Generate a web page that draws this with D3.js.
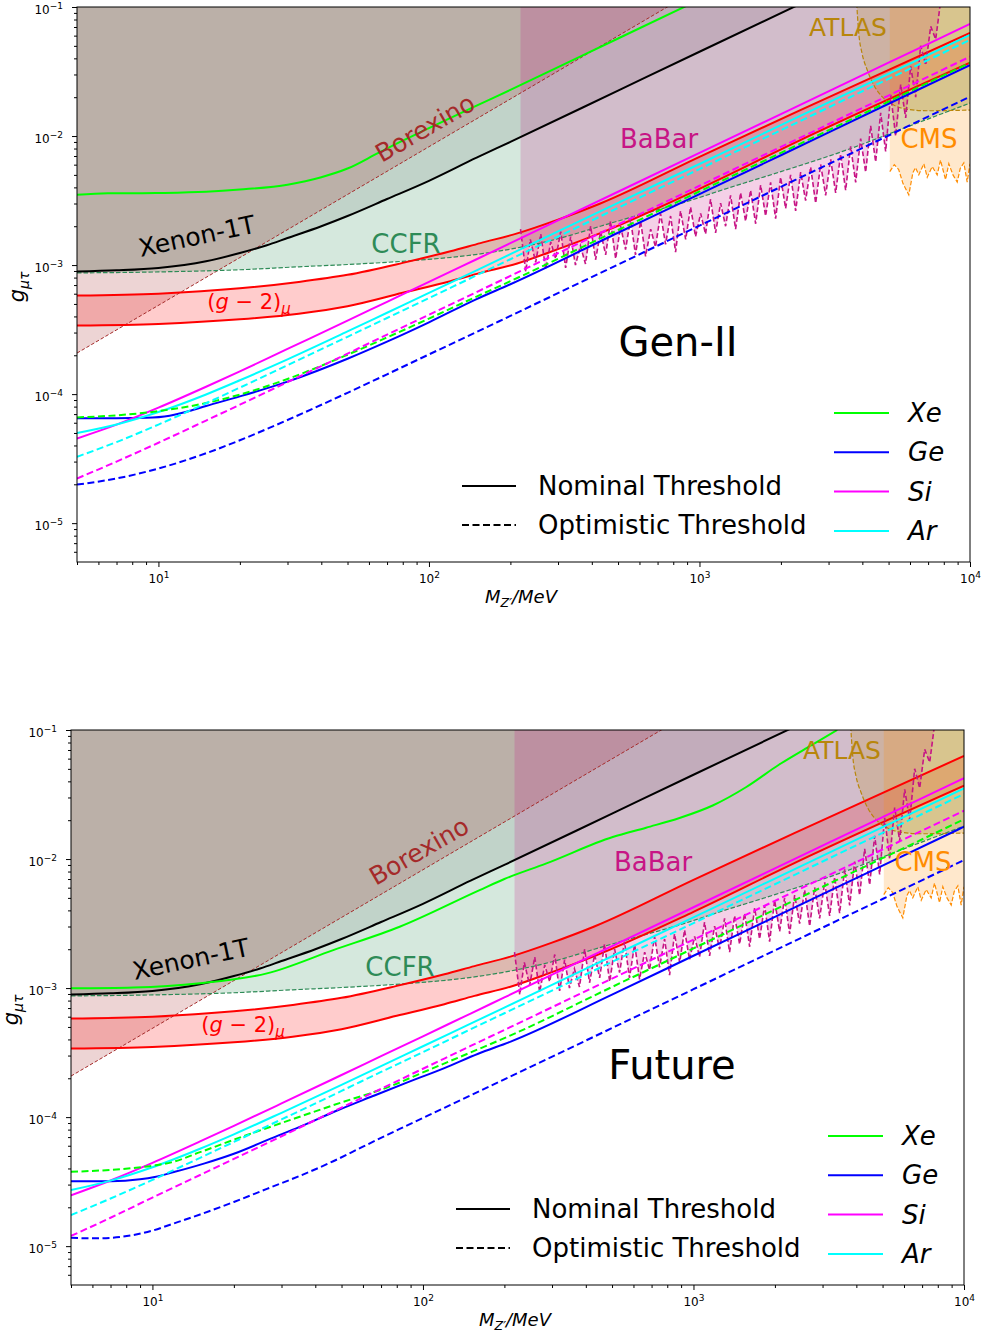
<!DOCTYPE html>
<html><head><meta charset="utf-8">
<script src="https://cdn.jsdelivr.net/npm/d3@7"></script>
<style>
html,body{margin:0;padding:0;background:#fff;}
svg{display:block;font-family:"DejaVu Sans",sans-serif;}
</style></head>
<body>
<svg id="chart" width="984" height="1337"></svg>
<script>
// ---------------- DATA ----------------
// shared mass grid (MeV) for several sensitivity curves
const massGrid = [5,7,10,15,20,30,50,70,100,150,200,500,1000,2000,5000,10000];

// Existing bounds (same in both panels)
const xenon1tM = [5,7,10,15,20,25,30,40,50,70,100,150,200,500,1000,2500];
const xenon1tG = [8.9e-4,9.1e-4,9.5e-4,1.07e-3,1.24e-3,1.42e-3,1.62e-3,2.0e-3,2.4e-3,3.25e-3,4.5e-3,6.8e-3,9.0e-3,2.25e-2,4.5e-2,0.112];

const borexinoM = [5,1000];
const borexinoG = [2.08e-4,0.14];

const ccfrM = [5,10,20,33,50,85,155,212,300,430,600,850,1300,2000,3500,6000,10000];
const ccfrG = [8.7e-4,8.85e-4,9.2e-4,9.7e-4,1.01e-3,1.08e-3,1.22e-3,1.36e-3,1.6e-3,2.0e-3,2.45e-3,3.0e-3,4.0e-3,5.3e-3,7.8e-3,1.2e-2,1.8e-2];

const gm2M     = [5,10,20,33,50,80,120,155,212,300,430,1000,2360,10000];
const gm2Upper = [5.8e-4,6.0e-4,6.6e-4,7.4e-4,8.4e-4,1.04e-3,1.28e-3,1.48e-3,1.76e-3,2.25e-3,3.0e-3,6.9e-3,1.59e-2,6.3e-2];
const gm2Lower = [3.4e-4,3.5e-4,3.8e-4,4.2e-4,4.8e-4,6.1e-4,7.5e-4,8.7e-4,1.03e-3,1.33e-3,1.77e-3,3.9e-3,9.3e-3,3.7e-2];

const babarM = [218,228,237,248,259,270,282,294,307,320,334,348,363,379,396,413,431,450,469,490,511,533,556,580,606,632,660,688,718,749,782,816,851,889,927,967,1010,1053,1099,1147,1197,1249,1303,1360,1419,1481,1545,1613,1683,1756,1832,1912,1995,2082,2172,2267,2366,2468,2576,2688,2805,2927,3054,3187,3325,3470,3621,3779,3943,4114,4293,4480,4675,4878,5091,5312,5543,5784,6036,6298,6572,6858,7157,7468,7793];
const babarG = [1.9e-3,8.9e-4,1.58e-3,1.05e-3,1.74e-3,9.3e-4,1.51e-3,1.12e-3,1.82e-3,9.5e-4,
 1.66e-3,1.0e-3,1.41e-3,1.02e-3,2.0e-3,1.1e-3,1.82e-3,1.2e-3,2.19e-3,1.12e-3,
 2.0e-3,1.32e-3,2.29e-3,1.2e-3,2.19e-3,1.17e-3,1.9e-3,1.38e-3,2.51e-3,1.45e-3,
 2.4e-3,1.26e-3,2.63e-3,1.58e-3,2.82e-3,1.66e-3,2.51e-3,1.74e-3,3.24e-3,1.78e-3,
 3.02e-3,2.0e-3,3.47e-3,1.9e-3,3.63e-3,2.19e-3,3.8e-3,2.09e-3,4.17e-3,2.4e-3,
 4.37e-3,2.29e-3,4.79e-3,2.75e-3,5.01e-3,2.63e-3,5.25e-3,3.16e-3,5.75e-3,3.02e-3,
 6.03e-3,3.47e-3,6.61e-3,3.63e-3,7.24e-3,3.8e-3,8.32e-3,4.37e-3,9.55e-3,5.25e-3,
 1.2e-2,6.31e-3,1.51e-2,7.59e-3,2.09e-2,1.0e-2,2.51e-2,1.38e-2,3.47e-2,2.0e-2,
 5.01e-2,3.55e-2,7.08e-2,5.62e-2,0.112];

const atlasM = [3800,3880,3990,4170,4410,4730,5220,5860,6950,10000];
const atlasG = [0.12,6.25e-2,4.37e-2,3.25e-2,2.48e-2,2.02e-2,1.74e-2,1.61e-2,1.57e-2,1.59e-2];

const cmsM = [5052,5250,5450,5650,5940,6150,6289,6467,6750,6948,7250,7563,7780,8120,8350,8650,8970,9200,9488,9762,10000];
const cmsG = [5.3e-3,6.0e-3,5.5e-3,4.3e-3,3.5e-3,5.2e-3,5.7e-3,5.0e-3,6.1e-3,4.8e-3,5.8e-3,5.0e-3,6.5e-3,4.6e-3,6.1e-3,5.0e-3,4.4e-3,5.6e-3,6.2e-3,4.4e-3,6.1e-3];

// Gen-II sensitivities
const genXeNomM = [5,6.5,8,10,15,20,30,40,50,65,80,100,150,200,500,1000];
const genXeNomG = [3.5e-3,3.6e-3,3.6e-3,3.62e-3,3.7e-3,3.85e-3,4.2e-3,4.8e-3,5.6e-3,7.4e-3,9.2e-3,1.15e-2,1.72e-2,2.28e-2,5.7e-2,0.114];
const genXeOptG = [6.6e-5,6.85e-5,7.38e-5,8.53e-5,9.92e-5,1.31e-4,2.02e-4,2.75e-4,3.85e-4,5.7e-4,7.5e-4,1.87e-3,3.72e-3,7.4e-3,1.85e-2,3.7e-2];
const genGeNomM = [5,7,9,11,13,15,20,30,50,70,100,150,200,500,1000,2000,5000,10000];
const genGeNomG = [6.5e-5,6.5e-5,6.55e-5,6.8e-5,7.4e-5,8.1e-5,9.6e-5,1.25e-4,1.88e-4,2.55e-4,3.6e-4,5.45e-4,7.1e-4,1.78e-3,3.55e-3,7.1e-3,1.78e-2,3.55e-2];
const genGeOptG = [1.99e-5,2.22e-5,2.65e-5,3.48e-5,4.39e-5,6.3e-5,1.024e-4,1.424e-4,2.03e-4,3.03e-4,4.04e-4,1.01e-3,2.02e-3,4.04e-3,1.01e-2,2.02e-2];
const genSiNomG = [4.53e-5,5.8e-5,7.85e-5,1.14e-4,1.5e-4,2.24e-4,3.71e-4,5.19e-4,7.4e-4,1.11e-3,1.48e-3,3.7e-3,7.4e-3,1.48e-2,3.7e-2,7.4e-2];
const genSiOptG = [2.22e-5,3.0e-5,4.2e-5,6.24e-5,8.28e-5,1.24e-4,2.06e-4,2.89e-4,4.12e-4,6.18e-4,8.24e-4,2.06e-3,4.12e-3,8.24e-3,2.06e-2,4.12e-2];
const genArNomG = [5.0e-5,5.82e-5,7.26e-5,9.94e-5,1.28e-4,1.86e-4,3.06e-4,4.27e-4,6.08e-4,9.11e-4,1.215e-3,3.035e-3,6.07e-3,1.214e-2,3.035e-2,6.07e-2];
const genArOptG = [3.27e-5,4.25e-5,5.81e-5,8.5e-5,1.123e-4,1.674e-4,2.78e-4,3.89e-4,5.55e-4,8.33e-4,1.11e-3,2.775e-3,5.55e-3,1.11e-2,2.775e-2,5.55e-2];

// Future sensitivities
const futXeNomM = [5,8.5,15,26.5,46.6,82,162,200,286,503,668,888,1178,1563,2075,2754,3400];
const futXeNomG = [9.95e-4,1.01e-3,1.09e-3,1.3e-3,1.97e-3,2.99e-3,5.75e-3,7.0e-3,9.25e-3,1.48e-2,1.75e-2,2.08e-2,2.6e-2,3.6e-2,5.4e-2,7.7e-2,0.1];
const futXeOptM = [5,7,10,11.75,15,22.5,30,50,74,100,150,211,500,1000,2000,5000,10000];
const futXeOptG = [3.77e-5,3.9e-5,4.2e-5,4.46e-5,5.35e-5,7.3e-5,9.0e-5,1.3e-4,1.7e-4,2.22e-4,3.17e-4,4.3e-4,1.02e-3,2.03e-3,4.06e-3,1.015e-2,2.03e-2];
const futGeNomM = [5,7,9,10.2,12,15.6,20,27.5,35,48.4,65,85.3,120,160,211,500,1000,2000,5000,10000];
const futGeNomG = [3.19e-5,3.19e-5,3.3e-5,3.44e-5,3.75e-5,4.38e-5,5.2e-5,6.84e-5,8.4e-5,1.13e-4,1.45e-4,1.82e-4,2.4e-4,3.1e-4,3.85e-4,8.9e-4,1.78e-3,3.56e-3,8.9e-3,1.78e-2];
const futGeOptM = [5,6,7,8.5,10,12,15,20,26.5,35,46.6,60,82,120,200,500,1000,2000,5000,10000];
const futGeOptG = [1.16e-5,1.15e-5,1.16e-5,1.22e-5,1.32e-5,1.5e-5,1.76e-5,2.2e-5,2.78e-5,3.5e-5,4.55e-5,5.9e-5,8.1e-5,1.18e-4,1.96e-4,4.9e-4,9.8e-4,1.96e-3,4.9e-3,9.8e-3];
const futSiNomG = [2.48e-5,3.23e-5,4.42e-5,6.48e-5,8.56e-5,1.276e-4,2.12e-4,2.965e-4,4.23e-4,6.35e-4,8.46e-4,2.115e-3,4.23e-3,8.46e-3,2.115e-2,4.23e-2];
const futSiOptG = [1.2e-5,1.66e-5,2.38e-5,3.56e-5,4.74e-5,7.11e-5,1.185e-4,1.66e-4,2.37e-4,3.56e-4,4.74e-4,1.185e-3,2.37e-3,4.74e-3,1.185e-2,2.37e-2];
const futArNomG = [2.72e-5,3.22e-5,4.09e-5,5.69e-5,7.35e-5,1.08e-4,1.777e-4,2.48e-4,3.54e-4,5.3e-4,7.06e-4,1.765e-3,3.53e-3,7.06e-3,1.765e-2,3.53e-2];
const futArOptG = [1.74e-5,2.34e-5,3.26e-5,4.84e-5,6.42e-5,9.6e-5,1.595e-4,2.24e-4,3.19e-4,4.79e-4,6.38e-4,1.595e-3,3.19e-3,6.38e-3,1.595e-2,3.19e-2];

// axis ticks
const xMajor = [10,100,1000,10000];
const yMajor = [1e-5,1e-4,1e-3,1e-2,1e-1];
const elements = ["Xe","Ge","Si","Ar"];
const elementColors = ["#00ff00","#0000ff","#ff00ff","#00ffff"];

// ---------------- DRAWING ----------------
const svg = d3.select('#chart');
svg.append('rect').attr('width',984).attr('height',1337).attr('fill','#fff');
const defs = svg.append('defs');
const W = 893, H = 555;

const xMinor = [], yMinor = [];
for (let e=0;e<=3;e++) for (let k=1;k<10;k++){ const v=k*Math.pow(10,e); if(v>=5 && v<=1e4 && k!==1) xMinor.push(v); }
for (let e=-6;e<=-2;e++) for (let k=2;k<10;k++){ const v=k*Math.pow(10,e); if(v>=5e-6 && v<=0.1) yMinor.push(v); }

function expLabels(sel){
  sel.each(function(d){
    const e = Math.round(Math.log10(d));
    const t = d3.select(this); t.text('10');
    t.append('tspan').attr('dy','-0.5em').attr('font-size','9px').text(e<0 ? '\u2212'+(-e) : String(e));
  });
}

function drawPanel(id, ox, oy, sens, title){
  const g = svg.append('g').attr('transform',`translate(${ox},${oy})`);
  const x = d3.scaleLog().domain([5,1e4]).range([0,W]);
  const y = d3.scaleLog().domain([5e-6,0.1]).range([H,0]);
  defs.append('clipPath').attr('id','clip'+id).append('rect').attr('width',W).attr('height',H);
  const p = g.append('g').attr('clip-path',`url(#clip${id})`);
  const zip = (M,G)=>M.map((m,i)=>[m,G[i]]);
  const lineS = d3.line().x(d=>x(d[0])).y(d=>y(d[1])).curve(d3.curveMonotoneX);
  const lineL = d3.line().x(d=>x(d[0])).y(d=>y(d[1]));
  const above = c => d3.area().x(d=>x(d[0])).y0(d=>y(d[1])).y1(0).curve(c);

  // fills
  p.append('path').attr('d',above(d3.curveMonotoneX)(zip(ccfrM,ccfrG))).attr('fill','#2e8b57').attr('fill-opacity',0.2);
  p.append('path').attr('d',above(d3.curveMonotoneX)(zip(xenon1tM,xenon1tG))).attr('fill','#000').attr('fill-opacity',0.09);
  p.append('path').attr('d',above(d3.curveLinear)(zip(borexinoM,borexinoG))).attr('fill','#a52a2a').attr('fill-opacity',0.2);
  const band = d3.area().x(d=>x(d[0])).y0(d=>y(d[1])).y1(d=>y(d[2])).curve(d3.curveMonotoneX);
  p.append('path').attr('d',band(gm2M.map((m,i)=>[m,gm2Lower[i],gm2Upper[i]]))).attr('fill','#ff0000').attr('fill-opacity',0.2);
  p.append('path').attr('d',above(d3.curveLinear)(zip(babarM,babarG))).attr('fill','#c71585').attr('fill-opacity',0.2);
  p.append('path').attr('d',above(d3.curveMonotoneX)(zip(atlasM,atlasG))).attr('fill','#b8860b').attr('fill-opacity',0.2);
  p.append('path').attr('d',above(d3.curveLinear)(zip(cmsM,cmsG))).attr('fill','#ff8c00').attr('fill-opacity',0.2);

  // exclusion boundary lines
  const stroke = (d,c,w,dash)=>p.append('path').attr('d',d).attr('fill','none').attr('stroke',c).attr('stroke-width',w).attr('stroke-dasharray',dash||null);
  stroke(lineL(zip(borexinoM,borexinoG)),'#a52a2a',1,'3.5,2');
  stroke(lineS(zip(ccfrM,ccfrG)),'#2e8b57',1.2,'4.5,2');
  stroke(lineS(zip(xenon1tM,xenon1tG)),'#000',2);
  stroke(lineS(zip(gm2M,gm2Upper)),'#ff0000',2);
  stroke(lineS(zip(gm2M,gm2Lower)),'#ff0000',2);
  stroke(lineS(zip(atlasM,atlasG)),'#b8860b',1.2,'4.5,2');
  stroke(lineL(zip(cmsM,cmsG)),'#ff8c00',1.2,'4.5,2');
  stroke(lineL(zip(babarM,babarG)),'#c71585',1.6,'5,2.5');

  // sensitivity lines
  sens.forEach(s=>stroke(lineS(zip(s.M,s.G)),s.color,2,s.dash?'7,3.5':null));

  // region labels
  const label = (txt,cx,cy,col,size,rot)=>g.append('text').attr('transform',`translate(${cx},${cy}) rotate(${rot||0})`)
    .attr('text-anchor','middle').attr('dy','0.35em').attr('fill',col).attr('font-size',size).text(txt);
  label('Xenon-1T',120,229,'#000',25,-12);
  label('Borexino',348,121,'#a52a2a',25,-30);
  label('CCFR',329,237,'#2e8b57',26);
  label('BaBar',582,132,'#c71585',26);
  label('ATLAS',771,20,'#b8860b',25);
  label('CMS',852,132,'#ff8c00',26);
  const gm = g.append('text').attr('x',172).attr('y',295).attr('dy','0.35em').attr('text-anchor','middle').attr('fill','#ff0000').attr('font-size',21);
  gm.append('tspan').text('(');
  gm.append('tspan').attr('font-style','italic').text('g');
  gm.append('tspan').text(' \u2212 2)');
  gm.append('tspan').attr('font-style','italic').attr('font-size',15).attr('dy',5).text('\u03bc');
  label(title,601,335,'#000',40);

  // legends
  g.append('line').attr('x1',385).attr('x2',439).attr('y1',479).attr('y2',479).attr('stroke','#000').attr('stroke-width',2);
  g.append('line').attr('x1',385).attr('x2',439).attr('y1',518).attr('y2',518).attr('stroke','#000').attr('stroke-width',2).attr('stroke-dasharray','7,3.5');
  g.append('text').attr('x',461).attr('y',479).attr('dy','0.35em').attr('font-size',26).text('Nominal Threshold');
  g.append('text').attr('x',461).attr('y',518).attr('dy','0.35em').attr('font-size',26).text('Optimistic Threshold');
  elements.forEach((el,i)=>{
    const ly = 406 + i*39.3;
    g.append('line').attr('x1',757).attr('x2',812).attr('y1',ly).attr('y2',ly).attr('stroke',elementColors[i]).attr('stroke-width',2);
    g.append('text').attr('x',831).attr('y',ly).attr('dy','0.35em').attr('font-size',26).attr('font-style','italic').text(el);
  });

  // axes
  const styleAx = a => { a.select('.domain').remove(); a.attr('font-family','DejaVu Sans').attr('font-size',12); a.selectAll('line').attr('stroke','#000'); };
  const xa = g.append('g').attr('transform',`translate(0,${H})`).call(d3.axisBottom(x).tickValues(xMajor).tickSize(5).tickPadding(7).tickFormat(d=>'10'));
  styleAx(xa); expLabels(xa.selectAll('.tick text'));
  const xm = g.append('g').attr('transform',`translate(0,${H})`).call(d3.axisBottom(x).tickValues(xMinor).tickSize(3).tickFormat(''));
  styleAx(xm);
  const ya = g.append('g').call(d3.axisLeft(y).tickValues(yMajor).tickSize(5).tickPadding(9).tickFormat(d=>'10'));
  styleAx(ya); ya.selectAll('.tick text').attr('dy','0.5em'); expLabels(ya.selectAll('.tick text'));
  const ym = g.append('g').call(d3.axisLeft(y).tickValues(yMinor).tickSize(3).tickFormat(''));
  styleAx(ym);
  g.append('rect').attr('width',W).attr('height',H).attr('fill','none').attr('stroke','#000').attr('stroke-width',1);

  // axis titles
  const xl = g.append('text').attr('x',444).attr('y',596).attr('text-anchor','middle').attr('font-size',18).attr('font-style','italic');
  xl.append('tspan').text('M');
  xl.append('tspan').attr('font-size',12.5).attr('dy',4).text('Z\u2032');
  xl.append('tspan').attr('font-size',18).attr('dy',-4).text('/MeV');
  const yl = g.append('text').attr('transform',`translate(-53,280) rotate(-90)`).attr('text-anchor','middle').attr('font-size',21).attr('font-style','italic');
  yl.append('tspan').text('g');
  yl.append('tspan').attr('font-size',14).attr('dy',5).text('\u03bc\u03c4');
}

drawPanel('top',77,7,[
  {M:genXeNomM,G:genXeNomG,color:elementColors[0]},
  {M:genGeNomM,G:genGeNomG,color:elementColors[1]},
  {M:massGrid,G:genSiNomG,color:elementColors[2]},
  {M:massGrid,G:genArNomG,color:elementColors[3]},
  {M:massGrid,G:genXeOptG,color:elementColors[0],dash:true},
  {M:massGrid,G:genGeOptG,color:elementColors[1],dash:true},
  {M:massGrid,G:genSiOptG,color:elementColors[2],dash:true},
  {M:massGrid,G:genArOptG,color:elementColors[3],dash:true}
],'Gen-II');

drawPanel('bot',71,730,[
  {M:futXeNomM,G:futXeNomG,color:elementColors[0]},
  {M:futGeNomM,G:futGeNomG,color:elementColors[1]},
  {M:massGrid,G:futSiNomG,color:elementColors[2]},
  {M:massGrid,G:futArNomG,color:elementColors[3]},
  {M:futXeOptM,G:futXeOptG,color:elementColors[0],dash:true},
  {M:futGeOptM,G:futGeOptG,color:elementColors[1],dash:true},
  {M:massGrid,G:futSiOptG,color:elementColors[2],dash:true},
  {M:massGrid,G:futArOptG,color:elementColors[3],dash:true}
],'Future');
</script>
</body></html>
